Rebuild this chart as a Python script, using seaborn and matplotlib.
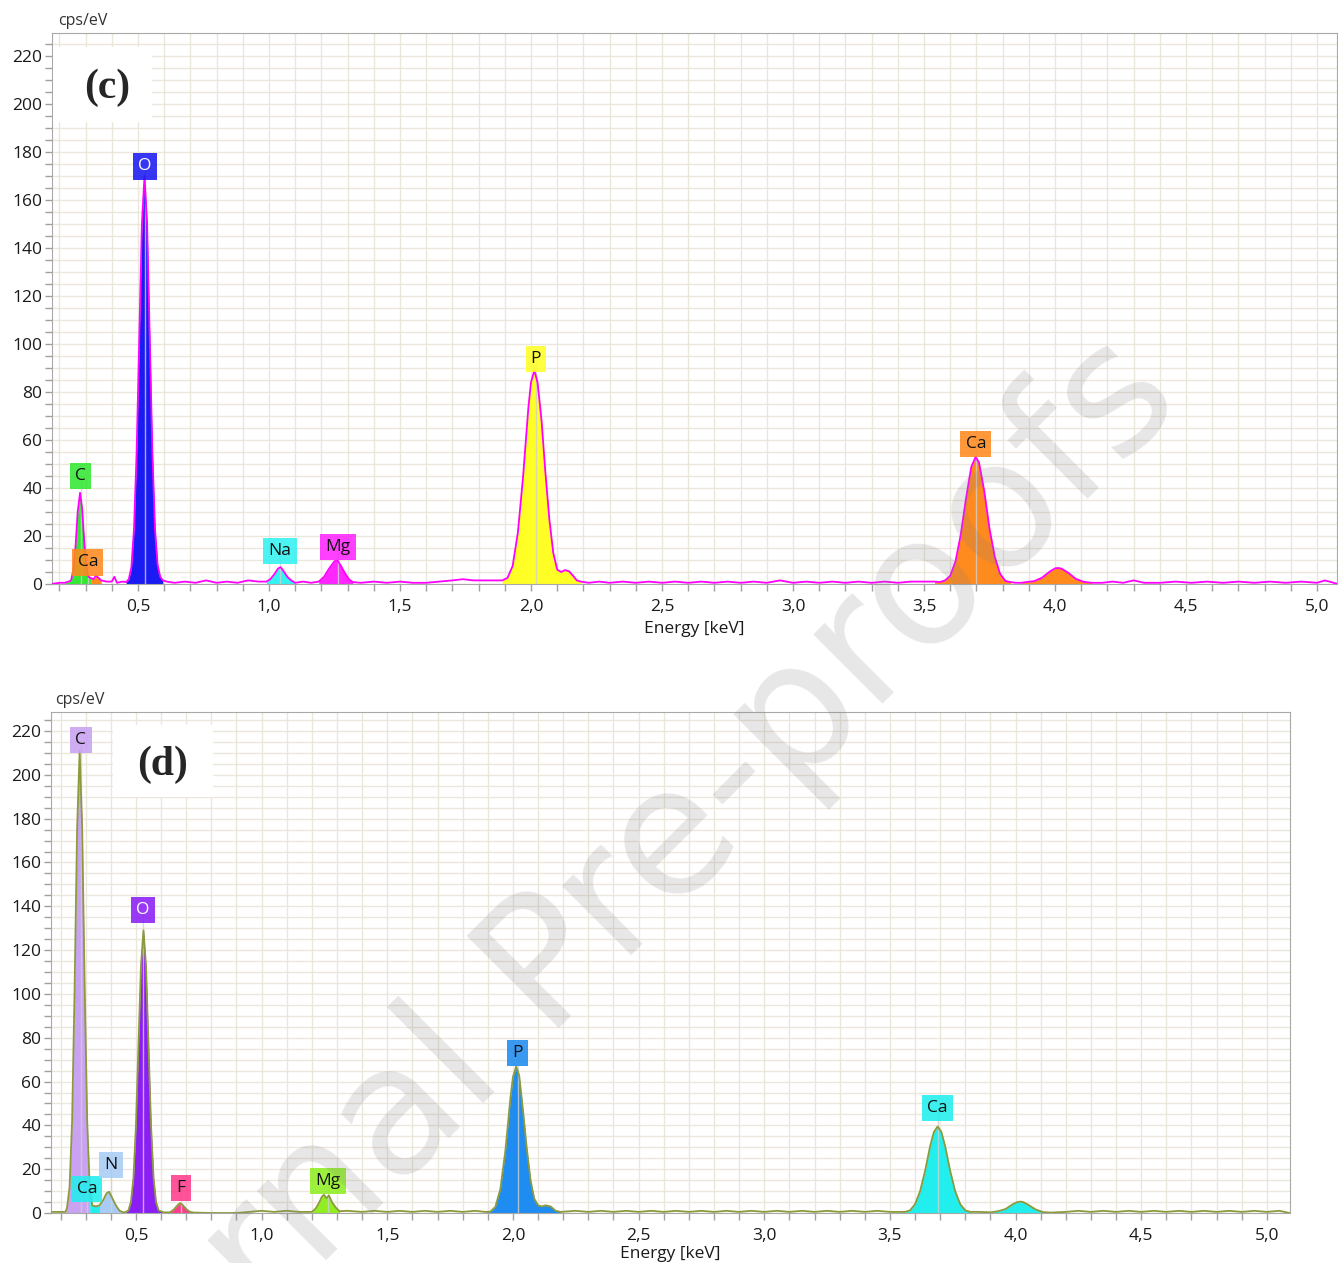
import numpy as np
import pandas as pd
import seaborn as sns
import matplotlib.pyplot as plt
from matplotlib.patches import Rectangle
from matplotlib.ticker import MultipleLocator, FuncFormatter
from matplotlib.colors import to_rgba

# ---- panel (c) spectrum ----
energy_c = [0.17, 0.20, 0.22, 0.235, 0.245, 0.255, 0.262, 0.27, 0.279, 0.287, 0.295, 0.303,
            0.311, 0.32, 0.33, 0.34, 0.35, 0.36, 0.38, 0.40, 0.41, 0.42, 0.44,
            0.455, 0.465, 0.475, 0.485, 0.495, 0.505, 0.515, 0.525, 0.535, 0.545, 0.555,
            0.565, 0.575, 0.585, 0.595, 0.61, 0.64, 0.68, 0.72, 0.76, 0.80, 0.84, 0.88,
            0.92, 0.96, 0.99, 1.005, 1.02, 1.035, 1.045, 1.055, 1.07, 1.085, 1.10, 1.13,
            1.16, 1.19, 1.21, 1.23, 1.25, 1.262, 1.275, 1.29, 1.305, 1.32, 1.35, 1.40,
            1.45, 1.50, 1.55, 1.60, 1.65, 1.70, 1.74, 1.78, 1.82, 1.86, 1.89, 1.91, 1.93,
            1.95, 1.97, 1.99, 2.00, 2.013, 2.025, 2.04, 2.055, 2.07, 2.085, 2.10, 2.115,
            2.13, 2.145, 2.16, 2.175, 2.19, 2.22, 2.26, 2.30, 2.35, 2.40, 2.45, 2.50,
            2.55, 2.60, 2.65, 2.70, 2.75, 2.80, 2.85, 2.90, 2.95, 3.00, 3.05, 3.10, 3.15,
            3.20, 3.25, 3.30, 3.35, 3.40, 3.45, 3.50, 3.54, 3.56, 3.58, 3.60, 3.62, 3.64,
            3.66, 3.68, 3.697, 3.71, 3.73, 3.75, 3.77, 3.79, 3.81, 3.83, 3.85, 3.87, 3.89,
            3.92, 3.95, 3.98, 4.00, 4.012, 4.025, 4.05, 4.08, 4.11, 4.14, 4.18, 4.22,
            4.26, 4.30, 4.34, 4.40, 4.46, 4.52, 4.58, 4.64, 4.70, 4.76, 4.82, 4.88, 4.94,
            5.00, 5.03, 5.08]
counts_c = [0, 0.5, 0.5, 1, 1.5, 6.9, 16, 30, 38, 31.4, 17.8, 6.9,
            3, 2.5, 2, 3.5, 2.5, 1.5, 1, 1, 3, 0.5, 1,
            0.8, 2, 7, 23, 55, 103, 150, 170, 150, 103, 55,
            23, 8, 3, 1.5, 1, 0.5, 1, 0.5, 1.5, 0.5, 1, 0.5,
            1.5, 1, 1, 2, 4, 6.5, 7, 5.5, 3, 1.5, 0.5, 1,
            0.5, 1, 3, 6.5, 9.5, 9.8, 7.5, 4.5, 2, 0.8, 0.5, 1,
            0.5, 1, 0.5, 0.5, 1, 1.5, 2, 1.5, 1.5, 1.5, 1.5, 2.5, 7.5,
            21.5, 45, 73.5, 84, 89, 84, 68.5, 46.5, 27, 13, 6, 5,
            5.8, 5.3, 3.5, 1.5, 1, 0.5, 1, 0.5, 1, 0.5, 1, 0.5,
            1, 0.5, 1, 0.5, 1, 0.5, 1, 0.5, 1.5, 0.5, 1, 0.5, 1,
            0.5, 1, 0.5, 1, 0.5, 1, 1, 1, 0.8, 1.5, 3.4, 9.4, 20.5,
            35.5, 48.7, 53, 50.5, 38.6, 23, 11.3, 4.3, 1.3, 0.8, 0.5, 0.5, 0.8,
            1.2, 2.6, 5.2, 6.5, 6.7, 6.4, 4.7, 2.1, 0.9, 0.5, 0.5, 1,
            0.5, 1.5, 0.5, 0.5, 1, 0.5, 1, 0.5, 1, 0.5, 1, 0.5, 1,
            0.5, 1.5, 0]

win_elem_c = ["C", "Ca", "O", "Na", "Mg", "P", "Ca", "Ca"]
win_lo_c = [0.22, 0.32, 0.455, 0.99, 1.19, 1.89, 3.54, 3.87]
win_hi_c = [0.32, 0.36, 0.595, 1.10, 1.32, 2.19, 3.83, 4.14]

label_elem_c = ["C", "Ca", "O", "Na", "Mg", "P", "Ca"]
label_e_c = [0.282, 0.309, 0.527, 1.042, 1.263, 2.019, 3.698]
label_y_c = [45, 9, 174, 13.8, 15.4, 93.8, 58.3]

# ---- panel (d) spectrum ----
energy_d = [0.16, 0.17, 0.20, 0.22, 0.226, 0.236, 0.246, 0.256, 0.266, 0.276, 0.286, 0.296,
            0.306, 0.316, 0.326, 0.34, 0.355, 0.37, 0.383, 0.393, 0.405, 0.42, 0.435,
            0.45, 0.46, 0.47, 0.48, 0.49, 0.50, 0.51, 0.52, 0.53, 0.54, 0.55, 0.56, 0.57,
            0.58, 0.59, 0.61, 0.635, 0.65, 0.665, 0.675, 0.685, 0.70, 0.715, 0.73, 0.80,
            0.90, 0.95, 1.00, 1.05, 1.10, 1.15, 1.20, 1.215, 1.23, 1.24, 1.248, 1.258,
            1.268, 1.28, 1.295, 1.31, 1.34, 1.40, 1.45, 1.50, 1.55, 1.60, 1.65, 1.70,
            1.75, 1.80, 1.85, 1.89, 1.91, 1.93, 1.95, 1.97, 1.99, 2.00, 2.013, 2.025,
            2.04, 2.055, 2.07, 2.085, 2.10, 2.115, 2.13, 2.15, 2.17, 2.19, 2.25, 2.30,
            2.35, 2.40, 2.45, 2.50, 2.55, 2.60, 2.65, 2.70, 2.75, 2.80, 2.85, 2.90, 2.95,
            3.00, 3.05, 3.10, 3.15, 3.20, 3.25, 3.30, 3.35, 3.40, 3.45, 3.50, 3.54, 3.56,
            3.58, 3.60, 3.62, 3.64, 3.66, 3.675, 3.69, 3.705, 3.72, 3.74, 3.76, 3.78, 3.80,
            3.82, 3.86, 3.90, 3.93, 3.96, 3.99, 4.005, 4.018, 4.03, 4.05, 4.08, 4.11,
            4.14, 4.20, 4.25, 4.30, 4.35, 4.40, 4.45, 4.50, 4.55, 4.60, 4.65, 4.70, 4.75,
            4.80, 4.85, 4.90, 4.95, 5.00, 5.05, 5.09]
counts_d = [0, 0.5, 0.5, 0.5, 2.5, 12, 42, 103, 176, 211, 176, 103,
            42, 12, 3.5, 3, 3.5, 6, 9, 9.7, 7, 3.5, 1,
            0.3, 0.5, 1.2, 5, 16, 40, 77, 113, 129, 113, 77, 40, 16,
            5, 1.2, 0.3, 0.3, 1.5, 3.5, 4.5, 3.8, 1.8, 0.5, 0.2, 0,
            0, 0.5, 1, 0.5, 1, 0.5, 0.5, 2, 5, 7.5, 8.3, 6.8,
            8, 5, 2.5, 0.8, 1, 0.5, 1, 0.5, 1, 0.5, 1, 0.5,
            1, 0.5, 1, 0.5, 0.6, 2.8, 10.9, 28.5, 52.5, 62, 67, 62.7,
            47, 29.6, 15.1, 6.5, 3.5, 3, 3.5, 3, 1, 0.5, 1, 0.5,
            1, 0.5, 1, 0.5, 1, 0.5, 1, 0.5, 1, 0.5, 1, 0.5, 1,
            0.5, 1, 0.5, 1, 0.5, 1, 0.5, 1, 0.5, 1, 0.5, 0.5, 0.5,
            1.2, 4, 9.9, 19.2, 30.5, 37, 39.5, 37, 30.5, 19.2, 9.9, 4, 1.2,
            0.5, 0.5, 0.3, 0.8, 1.8, 4.1, 4.9, 5.2, 5, 3.8, 1.6, 0.4,
            0.2, 0.5, 1, 0.5, 1, 0.5, 1, 0.5, 1, 0.5, 1, 0.5, 1,
            0.5, 1, 0.5, 1, 0.5, 1, 0]

win_elem_d = ["C", "Ca", "N", "O", "F", "Mg", "P", "Ca", "Ca"]
win_lo_d = [0.22, 0.316, 0.355, 0.46, 0.635, 1.20, 1.89, 3.54, 3.86]
win_hi_d = [0.316, 0.355, 0.45, 0.61, 0.73, 1.31, 2.19, 3.82, 4.14]

label_elem_d = ["C", "Ca", "N", "O", "F", "Mg", "P", "Ca"]
label_e_d = [0.281, 0.305, 0.40, 0.528, 0.679, 1.264, 2.02, 3.69]
label_y_d = [215.8, 10.9, 21.9, 138.4, 11.4, 14.6, 73, 47.9]

colors_c = {"C": "#33e833", "Ca": "#ff8a1e", "O": "#1a1af2", "Na": "#33f2f2",
            "Mg": "#ff26ff", "P": "#ffff26"}
colors_d = {"C": "#c9a2f2", "Ca": "#22eeee", "N": "#a8ccf5", "O": "#8a1ef5",
            "F": "#ff3c8c", "Mg": "#90ee22", "P": "#1e8cf0"}

sns.set_style("white")
plt.rcParams["font.family"] = ["Open Sans", "DejaVu Sans"]

fig = plt.figure(figsize=(13.38, 12.63), dpi=100)
W, H = 1338, 1263


def panel(rect, energy, counts, win_elem, win_lo, win_hi, lab_elem, lab_e, lab_y,
          colors, line_color, xlim, ylim, white_text, xlabelpad):
    ax = fig.add_axes(rect)
    df = pd.DataFrame({"energy": energy, "counts": counts})
    e = df["energy"].to_numpy()
    c = df["counts"].to_numpy()
    for el, lo, hi in zip(win_elem, win_lo, win_hi):
        m = (e >= lo) & (e <= hi)
        ax.fill_between(e[m], c[m], color=colors[el], lw=0, zorder=2)
    ax.vlines(lab_e, 0, lab_y, color="#d0d0d0", lw=1, alpha=0.8, zorder=2.5)
    sns.lineplot(data=df, x="energy", y="counts", ax=ax, color=line_color, lw=1.3,
                 estimator=None, sort=False, zorder=3)
    for el, x, y in zip(lab_elem, lab_e, lab_y):
        ax.text(x, y, el, ha="center", va="center", fontsize=12.5,
                color="white" if el in white_text else "#111111", zorder=6,
                bbox=dict(boxstyle="square,pad=0.3", fc=to_rgba(colors[el], 0.88),
                          ec="none"))
    ax.set_xlim(*xlim)
    ax.set_ylim(*ylim)
    ax.xaxis.set_major_locator(MultipleLocator(0.5))
    ax.xaxis.set_minor_locator(MultipleLocator(0.1))
    ax.yaxis.set_major_locator(MultipleLocator(20))
    ax.yaxis.set_minor_locator(MultipleLocator(5))
    ax.xaxis.set_major_formatter(FuncFormatter(lambda v, p: f"{v:.1f}".replace(".", ",")))
    ax.grid(which="both", color="#ebe7dd", lw=1)
    ax.set_axisbelow(True)
    ax.tick_params(which="both", direction="out", length=5, width=1, color="#a0a0a0",
                   left=True, bottom=True, labelcolor="#1a1a1a")
    ax.tick_params(axis="y", pad=2, labelsize=12.5)
    ax.tick_params(axis="x", pad=6, labelsize=12.5)
    for s in ax.spines.values():
        s.set_color("#a8a8a8")
    ax.set_xlabel("Energy [keV]", fontsize=12.5, labelpad=xlabelpad, color="#1a1a1a")
    ax.set_ylabel("")
    return ax


ax_c = panel([52 / W, 1 - 584 / H, 1285 / W, 551 / H], energy_c, counts_c,
             win_elem_c, win_lo_c, win_hi_c, label_elem_c, label_e_c, label_y_c,
             colors_c, "#ff00ff", (0.172, 5.076), (0, 229.6), ["O"], 4)
ax_d = panel([51 / W, 1 - 1213 / H, 1239 / W, 501 / H], energy_d, counts_d,
             win_elem_d, win_lo_d, win_hi_d, label_elem_d, label_e_d, label_y_d,
             colors_d, "#8c9a3c", (0.162, 5.092), (0, 228.7), ["O"], 1)

# panel tags in white boxes
for ax, (x0, y0, w, h), (tx, ty), tag in [
        (ax_c, (0.001, 0.8385, 0.077, 0.136), (0.0428, 0.900), "(c)"),
        (ax_d, (0.050, 0.830, 0.081, 0.144), (0.0904, 0.894), "(d)")]:
    ax.add_patch(Rectangle((x0, y0), w, h, transform=ax.transAxes, fc="white",
                           ec="none", zorder=4))
    ax.text(tx, ty, tag, transform=ax.transAxes, ha="center", va="center",
            fontsize=30, fontweight="bold", family="Liberation Serif", zorder=5)

fig.text(58 / W, 1 - 21 / H, "cps/eV", ha="left", va="center", fontsize=11.5,
         color="#333333")
fig.text(55 / W, 1 - 700 / H, "cps/eV", ha="left", va="center", fontsize=11.5,
         color="#333333")

# watermark
fig.text(0.472, 0.236, "Journal Pre-proofs", rotation=45, rotation_mode="anchor",
         ha="center", va="baseline", fontsize=128, color="#7f7f7f", alpha=0.19,
         family="DejaVu Sans", zorder=10)

fig.savefig("out.png", dpi=100)
